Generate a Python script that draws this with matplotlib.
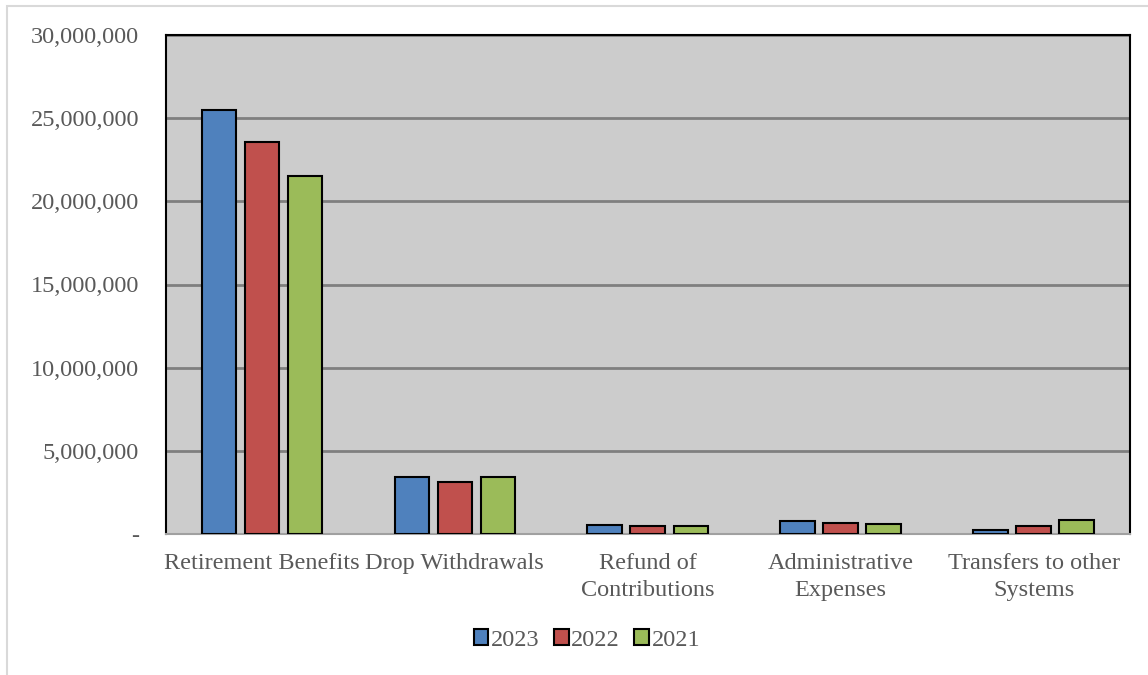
import numpy as np
import matplotlib.pyplot as plt
from matplotlib.patches import Rectangle
from matplotlib.ticker import FuncFormatter

categories = ['Retirement Benefits', 'Drop Withdrawals', 'Refund of\nContributions',
              'Administrative\nExpenses', 'Transfers to other\nSystems']
years = ['2023', '2022', '2021']
v2023 = [25480000, 3410000, 540000, 760000, 240000]
v2022 = [23540000, 3110000, 460000, 640000, 500000]
v2021 = [21550000, 3440000, 500000, 600000, 860000]
colors = ['#4F81BD', '#C0504D', '#9BBB59']

plt.rcParams['font.family'] = ['Liberation Serif', 'DejaVu Serif']

fig = plt.figure(figsize=(11.48, 6.75), dpi=100)
fig.patches.append(Rectangle((7/1148, -0.01), 1.2, 1 - 6/675 + 0.01, transform=fig.transFigure,
                             fill=False, edgecolor='#D9D9D9', linewidth=1.5))
ax = fig.add_axes([165.5/1148, 1 - 534/675, 964.5/1148, 499/675])
ax.set_facecolor('#CCCCCC')

x = np.arange(len(categories))
w = 0.179
step = 0.223
for i, (vals, yr) in enumerate(zip([v2023, v2022, v2021], years)):
    ax.bar(x + (i - 1) * step, vals, w, color=colors[i], edgecolor='black',
           linewidth=1.5, label=yr, zorder=3)

ax.set_xlim(-0.5, len(categories) - 0.5)
ax.set_ylim(0, 30000000)
ax.set_yticks(np.arange(0, 30000001, 5000000))
ax.yaxis.set_major_formatter(FuncFormatter(lambda v, p: '-' if v == 0 else f'{int(v):,}'))
ax.grid(axis='y', color='#7F7F7F', linewidth=2, zorder=1)
ax.set_xticks(x)
ax.set_xticklabels(categories, fontsize=17.5, color='#595959', linespacing=1.35)
ax.tick_params(axis='x', length=0, pad=14)
ax.tick_params(axis='y', length=0, pad=19, labelsize=17.5, labelcolor='#595959')
for s in ax.spines.values():
    s.set_linewidth(1.5)
    s.set_color('black')
ax.spines['bottom'].set_color('#A0A0A0')

ax.legend(loc='center', bbox_to_anchor=(587/1148, 1 - 640/675), bbox_transform=fig.transFigure,
          ncol=3, frameon=False, fontsize=17.5, handlelength=0.6, handleheight=0.6,
          handletextpad=0.1, columnspacing=0.6, labelcolor='#595959')

fig.savefig('out.png', dpi=100)
